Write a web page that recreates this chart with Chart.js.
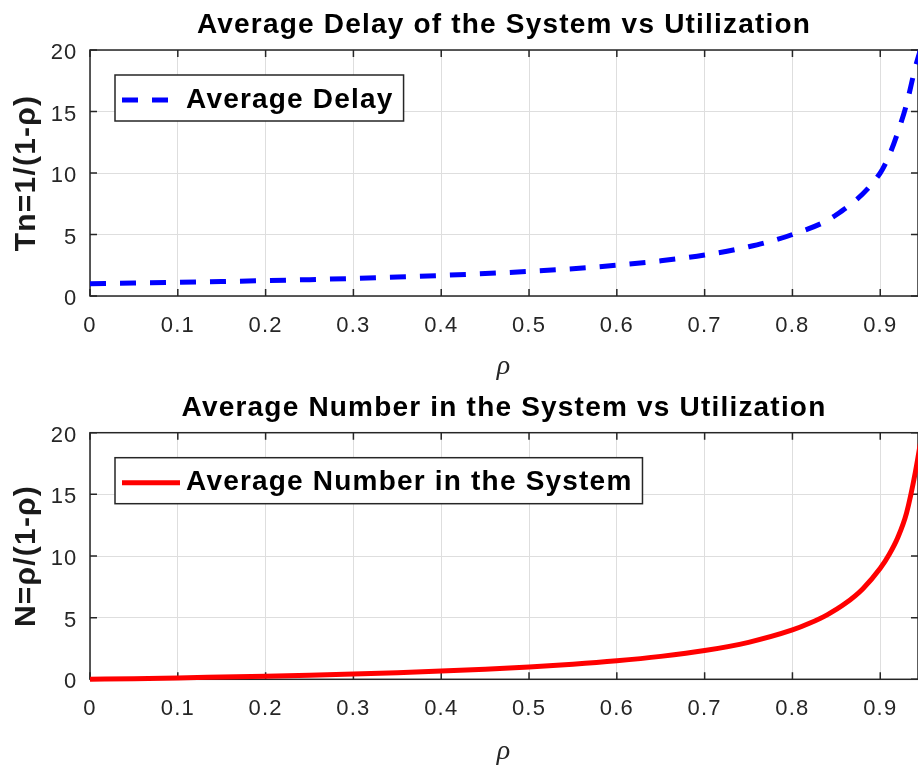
<!DOCTYPE html>
<html>
<head>
<meta charset="utf-8">
<script src="https://cdn.jsdelivr.net/npm/chart.js@4.4.1/dist/chart.umd.min.js"></script>
<style>
  html, body { margin: 0; padding: 0; background: #ffffff; }
  body { width: 918px; height: 777px; position: relative; overflow: hidden; }
  .box { position: absolute; left: 0; width: 918px; }
  #b1 { top: 0; height: 390px; }
  #b2 { top: 390px; height: 387px; }
</style>
</head>
<body>
<div class="box" id="b1"><canvas id="c1"></canvas></div>
<div class="box" id="b2"><canvas id="c2"></canvas></div>
<script>
// ---- data ----
const rhoDelay = [0, 0.05, 0.1, 0.15, 0.2, 0.25, 0.3, 0.35, 0.4, 0.45, 0.5, 0.55, 0.6, 0.65, 0.7, 0.75, 0.8, 0.85, 0.9, 0.91, 0.92, 0.93, 0.94, 0.95];
const delayValues = [1.00, 1.05, 1.11, 1.18, 1.25, 1.33, 1.43, 1.54, 1.67, 1.82, 2.00, 2.22, 2.50, 2.86, 3.33, 4.00, 5.00, 6.60, 10.00, 11.4, 13.3, 15.6, 18.6, 21.0];

const rhoNumber = [0, 0.05, 0.1, 0.15, 0.2, 0.25, 0.3, 0.35, 0.4, 0.45, 0.5, 0.55, 0.6, 0.65, 0.7, 0.75, 0.8, 0.82, 0.84, 0.86, 0.88, 0.9, 0.91, 0.92, 0.93, 0.94, 0.95];
const numberValues = [0, 0.05, 0.11, 0.18, 0.25, 0.33, 0.43, 0.54, 0.67, 0.82, 1.00, 1.22, 1.50, 1.86, 2.33, 3.00, 4.00, 4.56, 5.25, 6.14, 7.33, 9.00, 10.1, 11.5, 13.5, 16.8, 21.0];

const xTicks = [0, 0.1, 0.2, 0.3, 0.4, 0.5, 0.6, 0.7, 0.8, 0.9];
const xTickLabels = ['0', '0.1', '0.2', '0.3', '0.4', '0.5', '0.6', '0.7', '0.8', '0.9'];
const yTicks = [0, 5, 10, 15, 20];
const yTickLabels = ['0', '5', '10', '15', '20'];

const titles = ['Average Delay of the System vs Utilization', 'Average Number in the System vs Utilization'];
const seriesNames = ['Average Delay', 'Average Number in the System'];
const yTitles = ['Tn=1/(1-\u03C1)', 'N=\u03C1/(1-\u03C1)'];
const xTitle = '\u03C1';

// ---- styling ----
const SANS = '"Liberation Sans", Arial, Helvetica, sans-serif';
const SERIF = '"Liberation Serif", "Times New Roman", serif';
const INK = '#262626';
Chart.defaults.font.family = SANS;
Chart.defaults.color = INK;

const spacing = {
  id: 'spacing',
  beforeUpdate(c) { c.ctx.letterSpacing = '1.2px'; },
  beforeDraw(c) { c.ctx.letterSpacing = '1.2px'; },
  resize(c) { c.ctx.letterSpacing = '1.2px'; }
};

const frame = {
  id: 'frame',
  beforeDatasetsDraw(chart) {
    const { ctx, chartArea: a, scales: { x, y } } = chart;
    ctx.save();
    ctx.strokeStyle = INK;
    ctx.lineWidth = 1.5;
    ctx.beginPath();
    xTicks.forEach(v => {
      const p = x.getPixelForValue(v);
      ctx.moveTo(p, a.bottom); ctx.lineTo(p, a.bottom - 7);
      ctx.moveTo(p, a.top); ctx.lineTo(p, a.top + 7);
    });
    yTicks.forEach(v => {
      const p = y.getPixelForValue(v);
      ctx.moveTo(a.left, p); ctx.lineTo(a.left + 7, p);
      ctx.moveTo(a.right, p); ctx.lineTo(a.right - 7, p);
    });
    ctx.stroke();
    ctx.strokeRect(a.left, a.top, a.right - a.left, a.bottom - a.top);
    ctx.restore();
  }
};

const boxLegend = {
  id: 'boxLegend',
  afterDatasetsDraw(chart) {
    const ctx = chart.ctx, a = chart.chartArea;
    const ds = chart.data.datasets[0];
    ctx.save();
    ctx.font = 'bold 28px ' + SANS;
    ctx.letterSpacing = '1.2px';
    const tw = ctx.measureText(ds.label).width;
    const x0 = a.left + 25, y0 = a.top + 25, h = 46;
    const textX = x0 + 71;
    const w = 71 + tw + 10;
    ctx.fillStyle = '#ffffff';
    ctx.fillRect(x0, y0, w, h);
    ctx.strokeStyle = INK;
    ctx.lineWidth = 1.5;
    ctx.strokeRect(x0, y0, w, h);
    ctx.strokeStyle = ds.borderColor;
    ctx.lineWidth = ds.borderWidth;
    ctx.lineCap = 'butt';
    ctx.setLineDash(ds.borderDash || []);
    ctx.beginPath();
    ctx.moveTo(x0 + 7, y0 + 25);
    ctx.lineTo(x0 + 65, y0 + 25);
    ctx.stroke();
    ctx.setLineDash([]);
    ctx.fillStyle = '#000000';
    ctx.textBaseline = 'middle';
    ctx.textAlign = 'left';
    ctx.fillText(ds.label, textX, y0 + 25);
    ctx.restore();
  }
};

function makeChart(canvasId, idx, xs, ys, color, dash, titlePad, axisH, xTitlePadBottom) {
  const pts = xs.map((v, i) => ({ x: v, y: ys[i] }));
  return new Chart(document.getElementById(canvasId), {
    type: 'line',
    data: {
      datasets: [{
        label: seriesNames[idx],
        data: pts,
        borderColor: color,
        borderWidth: 5,
        borderDash: dash,
        borderCapStyle: 'butt',
        pointRadius: 0,
        fill: false,
        tension: 0,
        cubicInterpolationMode: 'monotone',
        clip: false
      }]
    },
    options: {
      responsive: true,
      maintainAspectRatio: false,
      devicePixelRatio: 1,
      animation: false,
      layout: { padding: 0 },
      plugins: {
        legend: { display: false },
        tooltip: { enabled: false },
        title: {
          display: true,
          fullSize: false,
          text: titles[idx],
          color: '#000000',
          font: { family: SANS, size: 28, weight: 'bold', lineHeight: 1.2 },
          padding: titlePad
        }
      },
      scales: {
        x: {
          type: 'linear',
          min: 0,
          max: 0.943,
          afterBuildTicks: s => { s.ticks = xTicks.map(v => ({ value: v })); },
          afterFit: s => { s.height = axisH; },
          ticks: {
            callback: (v, i) => xTickLabels[i],
            font: { family: SANS, size: 22 },
            color: INK,
            padding: 16.5,
            maxRotation: 0,
            autoSkip: false
          },
          grid: { color: '#dedede', lineWidth: 1, drawTicks: false },
          border: { display: false },
          title: {
            display: true,
            text: xTitle,
            color: INK,
            font: { family: SERIF, size: 28, style: 'italic', weight: 'normal' },
            padding: { top: 0, bottom: xTitlePadBottom }
          }
        },
        y: {
          type: 'linear',
          min: 0,
          max: 20,
          afterBuildTicks: s => { s.ticks = yTicks.map(v => ({ value: v })); },
          afterFit: s => { s.width = 90; },
          ticks: {
            callback: (v, i) => yTickLabels[i],
            font: { family: SANS, size: 22 },
            color: INK,
            padding: 12.5,
            labelOffset: 3
          },
          grid: { color: '#dedede', lineWidth: 1, drawTicks: false },
          border: { display: false },
          title: {
            display: true,
            text: yTitles[idx],
            color: '#1a1a1a',
            font: { family: SANS, size: 30, weight: 'bold' },
            padding: { top: 9, bottom: 0 }
          }
        }
      }
    },
    plugins: [spacing, frame, boxLegend]
  });
}

makeChart('c1', 0, rhoDelay, delayValues, '#0000ff', [16, 14], { top: 8, bottom: 8.4 }, 94, 6.5);
makeChart('c2', 1, rhoNumber, numberValues, '#ff0000', [], { top: 1.7, bottom: 7.4 }, 97.7, 8.5);
</script>
</body>
</html>
